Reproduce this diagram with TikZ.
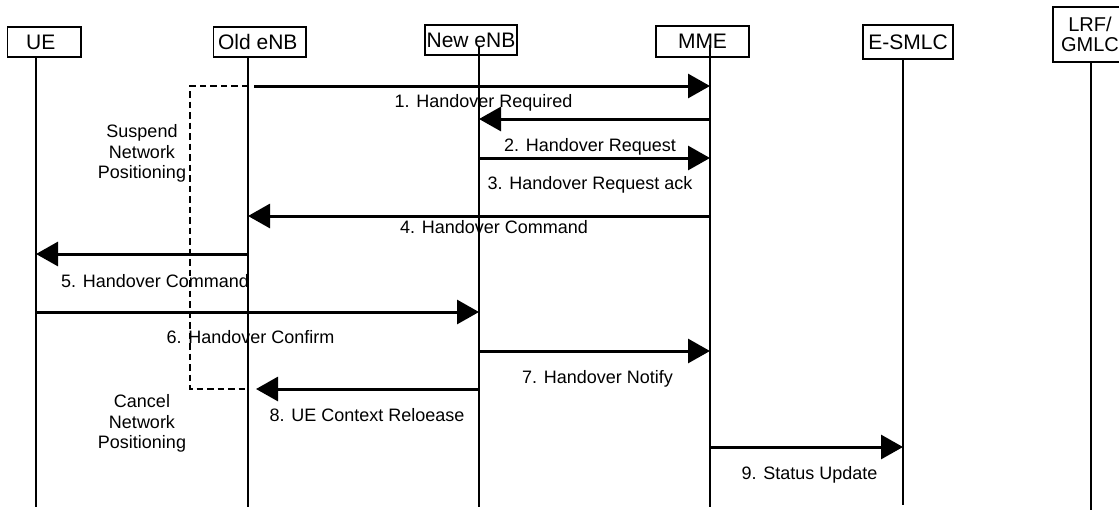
\documentclass[tikz,border=0pt]{standalone}
\usepackage{fontspec}
\setmainfont{Liberation Sans}
\usetikzlibrary{arrows.meta}
\begin{document}
\begin{tikzpicture}[x=1pt,y=-1pt,
  every node/.style={font=\fontsize{18pt}{20.5pt}\selectfont},
  ent/.style={draw, line width=1.3pt, inner sep=0pt, font=\fontsize{21pt}{20pt}\selectfont},
  life/.style={line width=1.4pt},
  msg/.style={line width=3pt, -{Triangle[length=22pt,width=24pt]}},
  lbl/.style={anchor=base, inner sep=0pt},
  blk/.style={align=center, inner sep=0pt},
  susp/.style={line width=2.5pt, dash pattern=on 6.5pt off 4pt}]
\useasboundingbox (0,0) rectangle (1119,515);
% entity boxes
\node[ent, minimum width=73.5pt, minimum height=30pt] (ue) at (44.25,42) {\hspace*{-7pt}UE};
\node[ent, minimum width=92.5pt, minimum height=30pt] (old) at (259.8,42) {Old eNB\hspace*{4pt}};
\node[ent, minimum width=92pt, minimum height=30pt] (new) at (471,40) {New eNB};
\node[ent, minimum width=93pt, minimum height=31pt] (mme) at (702.5,41.5) {MME};
\node[ent, minimum width=90pt, minimum height=34pt] (esm) at (908,42) {E-SMLC};
\node[ent, minimum width=74pt, minimum height=55pt, align=center, font=\fontsize{20pt}{20pt}\selectfont] (lrf) at (1090,34.5) {LRF/\\GMLC};
% lifelines
\coordinate (ueT) at (36,57);   \coordinate (ueB) at (36,507);
\coordinate (oldT) at (248,57); \coordinate (oldB) at (248,507);
\coordinate (newT) at (479,46); \coordinate (newB) at (479,507);
\coordinate (mmeT) at (710,45); \coordinate (mmeB) at (710,507);
\coordinate (esmT) at (903,59); \coordinate (esmB) at (903,505);
\coordinate (lrfT) at (1091,62);\coordinate (lrfB) at (1091,510);
\draw[life] (ueT) -- (ueB);
\draw[life] (oldT) -- (oldB);
\draw[life] (newT) -- (newB);
\draw[life] (mmeT) -- (mmeB);
\draw[life] (esmT) -- (esmB);
\draw[life] (lrfT) -- (lrfB);
% suspend bracket
\coordinate (s1) at (248,86); \coordinate (s2) at (190,86);
\coordinate (s3) at (190,389); \coordinate (s4) at (248,389);
\draw[susp] (s1) -- (s2) -- (s3) -- (s4);
% messages
\coordinate (m1a) at (254,86);  \coordinate (m1b) at (710,86);
\coordinate (m2a) at (710,119); \coordinate (m2b) at (479,119);
\coordinate (m3a) at (479,158); \coordinate (m3b) at (710,158);
\coordinate (m4a) at (710,216); \coordinate (m4b) at (248,216);
\coordinate (m5a) at (248,254); \coordinate (m5b) at (36,254);
\coordinate (m6a) at (36,312);  \coordinate (m6b) at (479,312);
\coordinate (m7a) at (479,351); \coordinate (m7b) at (710,351);
\coordinate (m8a) at (479,389); \coordinate (m8b) at (256,389);
\coordinate (m9a) at (710,447); \coordinate (m9b) at (903,447);
\draw[msg] (m1a) -- (m1b);
\draw[msg] (m2a) -- (m2b);
\draw[msg] (m3a) -- (m3b);
\draw[msg] (m4a) -- (m4b);
\draw[msg] (m5a) -- (m5b);
\draw[msg] (m6a) -- (m6b);
\draw[msg] (m7a) -- (m7b);
\draw[msg] (m8a) -- (m8b);
\draw[msg] (m9a) -- (m9b);
% labels
\node[lbl] (l1) at (483.5,107) {1. Handover Required};
\node[lbl] (l2) at (590,151) {2. Handover Request};
\node[lbl] (l3) at (590,189) {3. Handover Request ack};
\node[lbl] (l4) at (494,233) {4. Handover Command};
\node[lbl] (l5) at (155,287) {5. Handover Command};
\node[lbl] (l6) at (250.5,343) {6. Handover Confirm};
\node[lbl] (l7) at (597.5,383) {7. Handover Notify};
\node[lbl] (l8) at (367,421) {8. UE Context Reloease};
\node[lbl] (l9) at (809.5,479) {9. Status Update};
\node[blk] (susT) at (142,153.5) {Suspend\\Network\\Positioning};
\node[blk] (canT) at (142,423.5) {Cancel\\Network\\Positioning};
\end{tikzpicture}
\end{document}
